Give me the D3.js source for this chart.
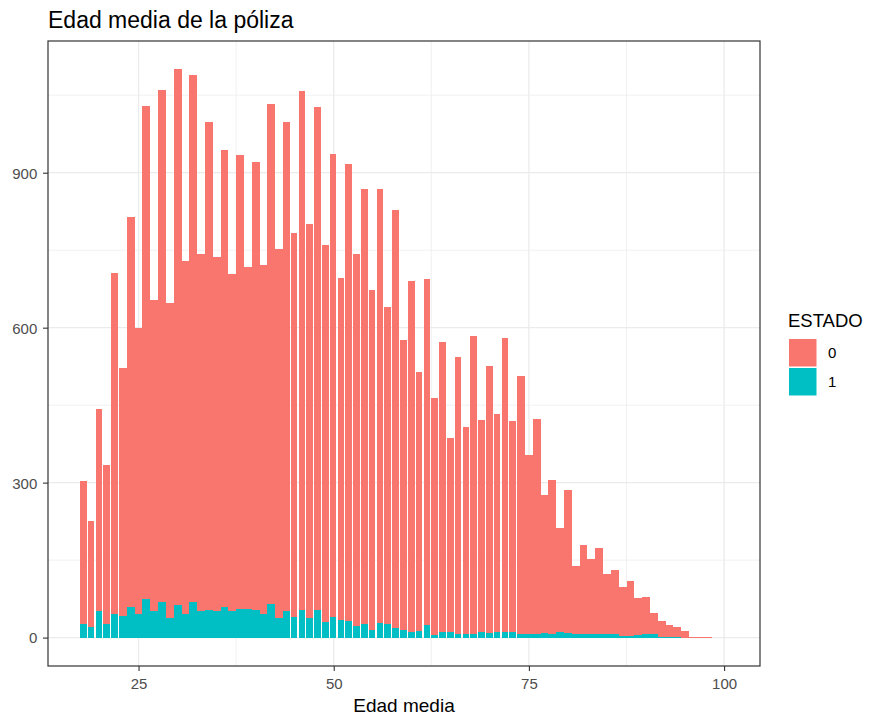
<!DOCTYPE html>
<html><head><meta charset="utf-8">
<script src="https://cdn.jsdelivr.net/npm/d3@7"></script>
<style>body{margin:0;background:#fff}svg{display:block;font-family:"Liberation Sans",Arial,sans-serif}</style>
</head><body>
<svg id="chart" width="873" height="720"></svg>
<script>
// ---- data ----
const ages = [18,19,20,21,22,23,24,25,26,27,28,29,30,31,32,33,34,35,36,37,38,39,40,41,42,43,44,45,46,47,48,49,50,51,52,53,54,55,56,57,58,59,60,61,62,63,64,65,66,67,68,69,70,71,72,73,74,75,76,77,78,79,80,81,82,83,84,85,86,87,88,89,90,91,92,93,94,95,96,97,98];
const estado0 = [277,205,391,308,660,481,755,554,956,602,991,611,1036,684,1021,692,944,684,885,652,879,663,867,676,968,714,947,745,1004,763,973,731,898,662,885,720,842,658,841,614,810,562,680,503,670,458,562,377,537,401,576,412,516,422,569,409,501,347,417,268,300,203,278,133,172,145,167,117,125,93,105,72,72,40,30,23,20,13,2,2,2];
const estado1 = [27,21,51,27,46,41,59,46,74,51,69,37,64,45,69,51,54,52,59,52,56,55,54,45,65,38,51,39,54,38,54,30,39,34,32,23,27,15,28,26,18,14,11,12,24,5,11,10,6,6,7,10,9,10,11,11,6,6,6,9,6,10,8,6,7,7,7,7,6,4,4,5,7,7,2,1,1,0,0,0,0];
const xTicks = [25, 50, 75, 100];
const xMinor = [37.5, 62.5, 87.5];
const yTicks = [0, 300, 600, 900];
const yMinor = [150, 450, 750, 1050];
const legendKeys = ["0", "1"];
const legendColors = ["#F8766D", "#00BFC4"];
const titleText = "Edad media de la póliza";
const xTitle = "Edad media";
const legendTitle = "ESTADO";

// ---- layout ----
const P = {l: 48, r: 760, t: 41, b: 666};
const svg = d3.select("#chart");
svg.append("rect").attr("width", 873).attr("height", 720).attr("fill", "#fff");

const rows = ages.map((a, i) => ({age: a, e0: estado0[i], e1: estado1[i]}));
const maxTotal = d3.max(rows, d => d.e0 + d.e1);

const x = d3.scaleLinear().domain([13.4, 104.6]).range([P.l, P.r]);
const y = d3.scaleLinear().domain([-0.05 * maxTotal, 1.05 * maxTotal]).range([P.b, P.t]);

// grid
const grid = svg.append("g");
xMinor.forEach(v => grid.append("line").attr("x1", x(v)).attr("x2", x(v)).attr("y1", P.t).attr("y2", P.b).attr("stroke", "#EBEBEB").attr("stroke-width", 0.7));
yMinor.forEach(v => grid.append("line").attr("y1", y(v)).attr("y2", y(v)).attr("x1", P.l).attr("x2", P.r).attr("stroke", "#EBEBEB").attr("stroke-width", 0.7));
xTicks.forEach(v => grid.append("line").attr("x1", x(v)).attr("x2", x(v)).attr("y1", P.t).attr("y2", P.b).attr("stroke", "#EBEBEB").attr("stroke-width", 1.3));
yTicks.forEach(v => grid.append("line").attr("y1", y(v)).attr("y2", y(v)).attr("x1", P.l).attr("x2", P.r).attr("stroke", "#EBEBEB").attr("stroke-width", 1.3));

// stacked bars (ESTADO 1 at the bottom, ESTADO 0 on top)
const stack = d3.stack().keys(["e1", "e0"])(rows);
const fill = {e0: legendColors[0], e1: legendColors[1]};
const gapped = a => (a >= 18 && a <= 22) || (a >= 44 && a <= 73);
svg.append("g").attr("shape-rendering", "crispEdges")
  .selectAll("g").data(stack).join("g").attr("fill", s => fill[s.key])
  .selectAll("rect").data(s => s).join("rect")
  .attr("x", d => x(d.data.age - 0.5))
  .attr("width", d => x(d.data.age + 0.5) - x(d.data.age - 0.5) - (gapped(d.data.age) ? 1.2 : 0))
  .attr("y", d => y(d[1]))
  .attr("height", d => Math.max(0, y(d[0]) - y(d[1])));

// panel border
svg.append("rect").attr("x", P.l).attr("y", P.t).attr("width", P.r - P.l).attr("height", P.b - P.t)
  .attr("fill", "none").attr("stroke", "#333333").attr("stroke-width", 1.2);

// axes
const xa = svg.append("g").attr("transform", `translate(0,${P.b})`)
  .call(d3.axisBottom(x).tickValues(xTicks).tickSize(5).tickFormat(d3.format("d")));
xa.select(".domain").remove();
xa.selectAll("line").attr("stroke", "#333333").attr("stroke-width", 1.1);
xa.selectAll("text").attr("y", 23).attr("dy", null).attr("font-size", 15).attr("fill", "#4D4D4D").attr("font-family", "Liberation Sans, Arial, sans-serif");

const ya = svg.append("g").attr("transform", `translate(${P.l},0)`)
  .call(d3.axisLeft(y).tickValues(yTicks).tickSize(5).tickPadding(5.7).tickFormat(d3.format("d")));
ya.select(".domain").remove();
ya.selectAll("line").attr("stroke", "#333333").attr("stroke-width", 1.1);
ya.selectAll("text").attr("dy", "0.36em").attr("font-size", 15).attr("fill", "#4D4D4D").attr("font-family", "Liberation Sans, Arial, sans-serif");

// titles
svg.append("text").attr("x", P.l).attr("y", 27.5).attr("font-size", 23).attr("fill", "#000").text(titleText);
svg.append("text").attr("x", (P.l + P.r) / 2).attr("y", 711.5).attr("text-anchor", "middle").attr("font-size", 19).attr("fill", "#000").text(xTitle);

// legend
const lg = svg.append("g");
lg.append("text").attr("x", 788).attr("y", 327).attr("font-size", 18.5).attr("fill", "#000").text(legendTitle);
legendKeys.forEach((k, i) => {
  lg.append("rect").attr("x", 789).attr("y", 339 + i * 29).attr("width", 27.5).attr("height", 27.5).attr("fill", legendColors[i]);
  lg.append("text").attr("x", 828).attr("y", 339 + i * 29 + 13.75 + 5.4).attr("font-size", 15).attr("fill", "#000").text(k);
});
</script>
</body></html>
